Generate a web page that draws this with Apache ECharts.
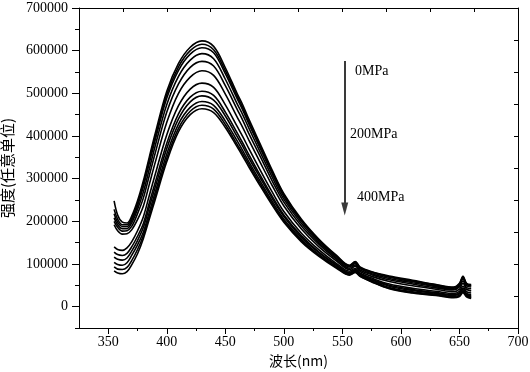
<!DOCTYPE html>
<html><head><meta charset="utf-8">
<script src="https://cdn.jsdelivr.net/npm/echarts@6/dist/echarts.min.js"></script>
<style>html,body{margin:0;padding:0;background:#fff}#c{width:530px;height:372px}</style>
</head><body><div id="c"></div>
<script>
// wavelength (nm)
const wavelengths = [355,358,362,366,370,375,380,385,390,400,410,420,430,440,450,460,465,470,480,490,500,515,530,545,556,561,565,575,590,610,630,645,650,653,656,660];
// intensity, thousands (0MPa -> 400MPa)
const s0  = [248,215,198,196,212,248,295,350,405,505,570,608,623,610,560,500,472,440,380,320,265,205,158,120,97,106,93,82,72,62,52,46,55,72,55,52];
const s1  = [228,205,192,192,207,242,288,343,397,497,562,600,615,602,553,494,466,434,375,316,262,202,156,118,96,105,92,81,70,60,51,45,53,70,53,50];
const s2  = [218,198,188,188,202,236,282,336,390,489,554,592,607,595,546,488,460,429,370,312,258,200,154,117,95,103,91,80,69,59,49,43,52,68,52,49];
const s3  = [208,192,183,183,196,228,269,322,376,474,540,578,593,581,533,476,449,419,361,304,252,195,150,114,93,101,89,77,66,56,47,41,49,65,49,46];
const s4  = [200,186,177,178,188,218,255,307,359,456,522,561,575,564,518,463,436,406,351,295,245,189,146,111,90,98,86,75,63,53,44,39,46,60,45,42];
const s5  = [192,178,170,171,180,204,236,286,337,432,500,538,553,542,498,445,419,391,337,284,236,182,140,107,87,95,83,71,59,49,41,35,41,55,41,37];
const s6  = [140,134,132,138,152,178,211,260,309,403,471,510,524,514,473,423,398,371,319,269,223,172,133,101,83,90,79,67,53,43,36,31,36,48,35,32];
const s7  = [128,122,120,125,140,165,195,243,290,383,452,491,505,495,456,408,383,357,307,259,215,166,128,98,80,87,77,64,50,40,33,28,32,43,31,28];
const s8  = [116,111,109,114,130,155,186,233,279,371,440,480,494,484,447,399,375,349,301,254,211,162,126,96,78,85,75,63,48,38,31,26,30,40,29,25];
const s9  = [104,99,97,103,120,145,175,221,267,358,428,467,481,472,435,389,365,340,293,247,205,158,122,93,77,83,73,61,45,35,29,24,27,37,27,23];
const s10 = [93,88,87,92,108,134,167,212,258,348,418,458,472,463,427,381,358,334,287,242,201,155,120,92,75,81,72,59,43,33,27,22,25,35,25,21];
const s11 = [84,79,77,82,98,124,160,205,250,340,410,450,464,455,420,375,352,328,282,238,198,152,118,90,74,80,71,58,42,32,26,21,24,33,23,19];
const allSeries = [s0,s1,s2,s3,s4,s5,s6,s7,s8,s9,s10,s11];

// axis ticks
const xMajor = [350,400,450,500,550,600,650,700];
const xMinor = [375,425,475,525,575,625,675];
const yMajor = [0,100000,200000,300000,400000,500000,600000,700000];
const yMinor = [-50000,50000,150000,250000,350000,450000,550000,650000];
const xTop = [362.5,400,437.5,475,512.5,550,587.5,625,662.5];
const yRight = [25000,100000,175000,250000,325000,400000,475000,550000,625000];

// annotation
const arrowX = 552, arrowFrom = 576000, arrowTo = 229000;
const labels = ['0MPa','200MPa','400MPa'];

const serif = '"Liberation Serif","Times New Roman",serif';
const cjk = '"Noto Sans CJK SC",sans-serif';
const xRange = {min:325, max:700};
const yRange = {min:-50000, max:700000};

function xAx(opt){
  return Object.assign({type:'value', min:xRange.min, max:xRange.max, splitLine:{show:false},
    axisLine:{show:false, onZero:false}, axisLabel:{show:false}, axisTick:{show:false}}, opt);
}
function yAx(opt){
  return Object.assign({type:'value', min:yRange.min, max:yRange.max, splitLine:{show:false},
    axisLine:{show:false, onZero:false}, axisLabel:{show:false}, axisTick:{show:false}}, opt);
}
const line = {show:true, onZero:false, lineStyle:{color:'#000', width:1}};

const chart = echarts.init(document.getElementById('c'));
const series = allSeries.map((arr) => ({
  type:'line', xAxisIndex:0, yAxisIndex:0, showSymbol:false, smooth:0.35, silent:true,
  lineStyle:{color:'#000', width:1.6},
  data: wavelengths.map((w,i)=>[w, arr[i]*1000])
}));
series[0].markLine = {
  silent:true, symbol:['none','triangle'], symbolSize:[7,13], label:{show:false},
  lineStyle:{color:'#3a3a3a', width:2, type:'solid'},
  itemStyle:{color:'#000'},
  data:[[{coord:[arrowX, arrowFrom]},{coord:[arrowX, arrowTo]}]]
};

chart.setOption({
  animation:false,
  backgroundColor:'#fff',
  grid:{left:79, right:12, top:8, bottom:44, outerBoundsMode:'none', containLabel:false},
  xAxis:[
    xAx({position:'bottom', axisLine:line,
      axisTick:{show:true, customValues:xMajor, length:6, lineStyle:{color:'#000'}},
      axisLabel:{show:true, customValues:xMajor, color:'#000', fontFamily:serif, fontSize:14, margin:7},
      name:'波长(nm)', nameLocation:'middle', nameGap:21,
      nameTextStyle:{color:'#000', fontFamily:cjk, fontSize:14}}),
    xAx({position:'bottom', axisTick:{show:true, customValues:xMinor, length:3, lineStyle:{color:'#000'}}}),
    xAx({position:'top', axisLine:line,
      axisTick:{show:true, inside:true, customValues:xTop, length:4, lineStyle:{color:'#000'}}})
  ],
  yAxis:[
    yAx({position:'left', axisLine:line,
      axisTick:{show:true, customValues:yMajor, length:7, lineStyle:{color:'#000'}},
      axisLabel:{show:true, customValues:yMajor, color:'#000', fontFamily:serif, fontSize:14, margin:11,
        formatter:(v)=>String(v)},
      name:'强度(任意单位)', nameLocation:'middle', nameGap:57,
      nameTextStyle:{color:'#000', fontFamily:cjk, fontSize:15}}),
    yAx({position:'left', axisTick:{show:true, customValues:yMinor, length:4, lineStyle:{color:'#000'}}}),
    yAx({position:'right', axisLine:line,
      axisTick:{show:true, inside:true, customValues:yRight, length:4, lineStyle:{color:'#000'}}})
  ],
  graphic:[
    {type:'text', left:355, top:64, style:{text:labels[0], font:'14px '+serif, fill:'#000'}},
    {type:'text', left:350, top:127, style:{text:labels[1], font:'14px '+serif, fill:'#000'}},
    {type:'text', left:357, top:190, style:{text:labels[2], font:'14px '+serif, fill:'#000'}}
  ],
  series: series
});
</script></body></html>
